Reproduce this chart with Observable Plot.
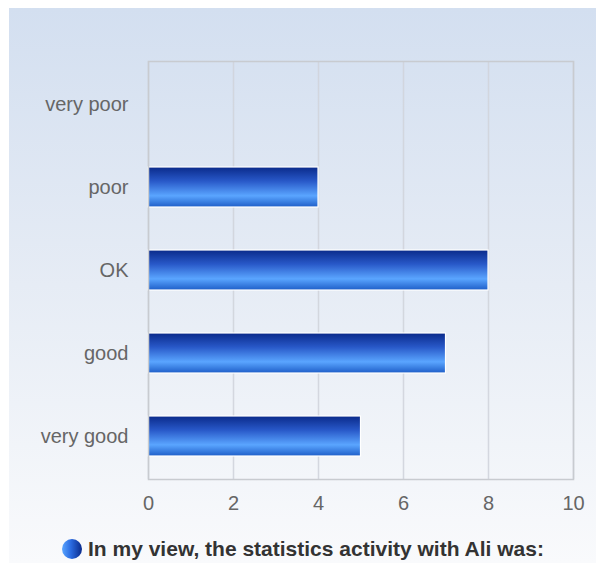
<!DOCTYPE html>
<html>
<head>
<meta charset="utf-8">
<script src="https://cdn.jsdelivr.net/npm/d3@7"></script>
<script src="https://cdn.jsdelivr.net/npm/@observablehq/plot@0.6"></script>
<style>
  html, body { margin: 0; padding: 0; background: #ffffff; }
  #panel {
    position: absolute; left: 9px; top: 8px; width: 587px; height: 555px;
    background: linear-gradient(to bottom, #d3dff0 0%, #e6ecf5 50%, #f9fafc 100%);
    font-family: "Liberation Sans", Arial, sans-serif;
  }
  #legend {
    position: absolute; left: 53px; top: 529px;
    display: flex; align-items: center;
    font-weight: bold; font-size: 21px; color: #333;
    white-space: nowrap;
  }
  #legend .dot {
    width: 20px; height: 20px; border-radius: 50%;
    background: linear-gradient(to right, #5aa5ff 0%, #2a6ae0 45%, #0a2a8a 100%);
    margin-right: 6px;
  }
</style>
</head>
<body>
<div id="panel">
  <div id="chart"></div>
  <div id="legend"><div class="dot"></div><span id="legendText"></span></div>
</div>
<script>
const categories = ["very poor", "poor", "OK", "good", "very good"];
const values = [0, 4, 8, 7, 5];
const xTicks = [0, 2, 4, 6, 8, 10];
const seriesName = "In my view, the statistics activity with Ali was:";

const data = categories.map((c, i) => ({category: c, value: values[i]}));

const chart = Plot.plot({
  width: 587,
  height: 515,
  marginLeft: 139,
  marginRight: 23,
  marginTop: 53,
  marginBottom: 44,
  style: {background: "transparent", fontFamily: "'Liberation Sans', Arial, sans-serif", fontSize: "20px", color: "#666"},
  x: {domain: [0, 10], ticks: xTicks, label: null, tickSize: 0, tickPadding: 16},
  y: {domain: categories, label: null, tickSize: 0, tickPadding: 20, paddingInner: 0.52, paddingOuter: 0.26},
  marks: [
    Plot.gridX(xTicks, {stroke: "#d0d4dc", strokeOpacity: 0.9, strokeWidth: 1.5}),
    Plot.barX(data.filter(d => d.value > 0), {x: "value", y: "category", fill: "url(#barGrad)", stroke: "#ffffff", strokeWidth: 1.2}),
    Plot.frame({stroke: "#c8cbd0", strokeWidth: 1.5})
  ]
});

const svg = d3.select(chart);
const defs = svg.insert("defs", ":first-child");
const g = defs.append("linearGradient").attr("id", "barGrad")
  .attr("x1", 0).attr("y1", 0).attr("x2", 0).attr("y2", 1);
[[0, "#0a2a8a"], [0.35, "#2858c8"], [0.72, "#5aa5ff"], [1, "#1e5ec8"]].forEach(([o, c]) =>
  g.append("stop").attr("offset", o).attr("stop-color", c));
svg.selectAll("text").attr("fill", "#666");

document.getElementById("chart").appendChild(chart);
document.getElementById("legendText").textContent = seriesName;
</script>
</body>
</html>
